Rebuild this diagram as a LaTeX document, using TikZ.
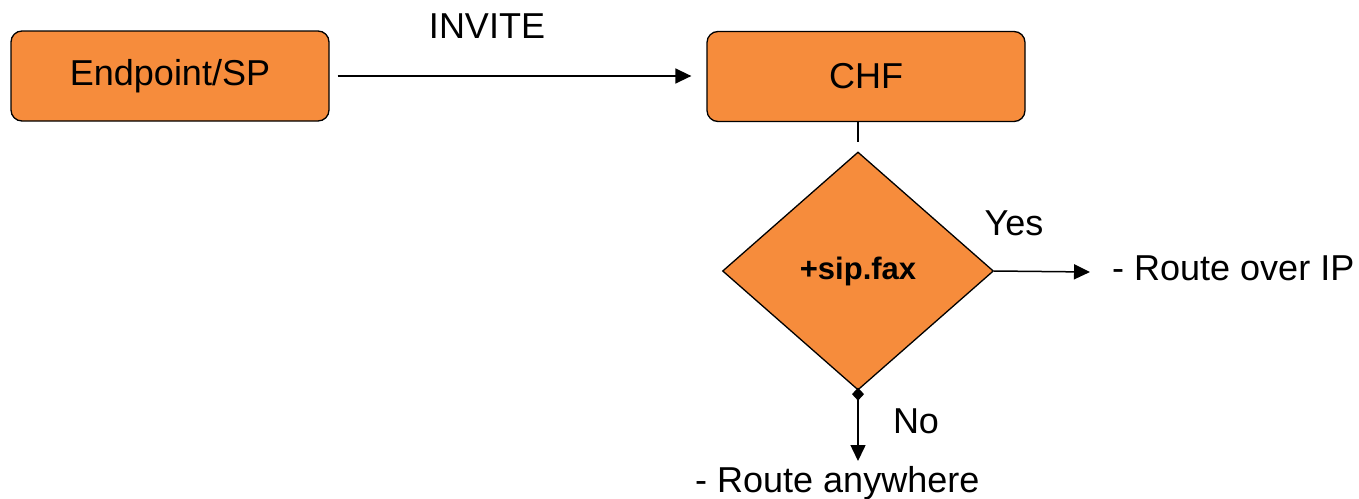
\documentclass[tikz,border=0pt]{standalone}
\usepackage{fontspec}
\setmainfont{Liberation Sans}
\usetikzlibrary{shapes.geometric,arrows.meta}
\definecolor{boxorange}{HTML}{F68C3C}
\begin{document}
\begin{tikzpicture}[x=1pt,y=-1pt,
  every node/.style={inner sep=0pt},
  txt/.style={font=\fontsize{36}{42}\selectfont},
  box/.style={draw=black, line width=1.3pt, fill=boxorange, rounded corners=11pt,
    minimum width=318pt, minimum height=90pt, txt},
  decision/.style={diamond, draw=black, line width=1.3pt, fill=boxorange,
    minimum width=271pt, minimum height=238pt,
    font=\fontsize{31}{36}\selectfont\bfseries},
  link/.style={line width=1.5pt},
  arr/.style={link, -{Triangle[length=16pt,width=15pt]}}]
  \useasboundingbox (0,0) rectangle (1359,498);

  % boxes
  \node[box] (ep)  at (170,76) {Endpoint/SP};
  \node[box] (chf) at (866,76.5) {CHF};
  \node[decision] (dec) at (858,271) {+sip.fax};

  % labels
  \node[txt, anchor=base] (invite) at (487,38) {INVITE};
  \node[txt, anchor=base] (yes) at (1014,235) {Yes};
  \node[txt, anchor=base west] (ip) at (1112,280) {- Route over IP};
  \node[txt, anchor=base] (no) at (916,433) {No};
  \node[txt, anchor=base west] (any) at (695,492) {- Route anywhere};

  % free ends of the outgoing arrows
  \coordinate (ipend)  at (1090,272);
  \coordinate (anyend) at (858,461);

  % connectors
  \draw[arr, shorten <=8pt, shorten >=15pt] (ep.east) -- (chf.west |- ep.east);
  \draw[link, shorten >=9pt] (dec.north |- chf.south) -- (dec.north);
  \draw[arr] (dec.east) -- (ipend);
  \draw[link, {Diamond[length=13pt,width=12pt]}-{Triangle[length=16pt,width=15pt]}]
    ([yshift=3pt]dec.south) -- (anyend);
\end{tikzpicture}
\end{document}
